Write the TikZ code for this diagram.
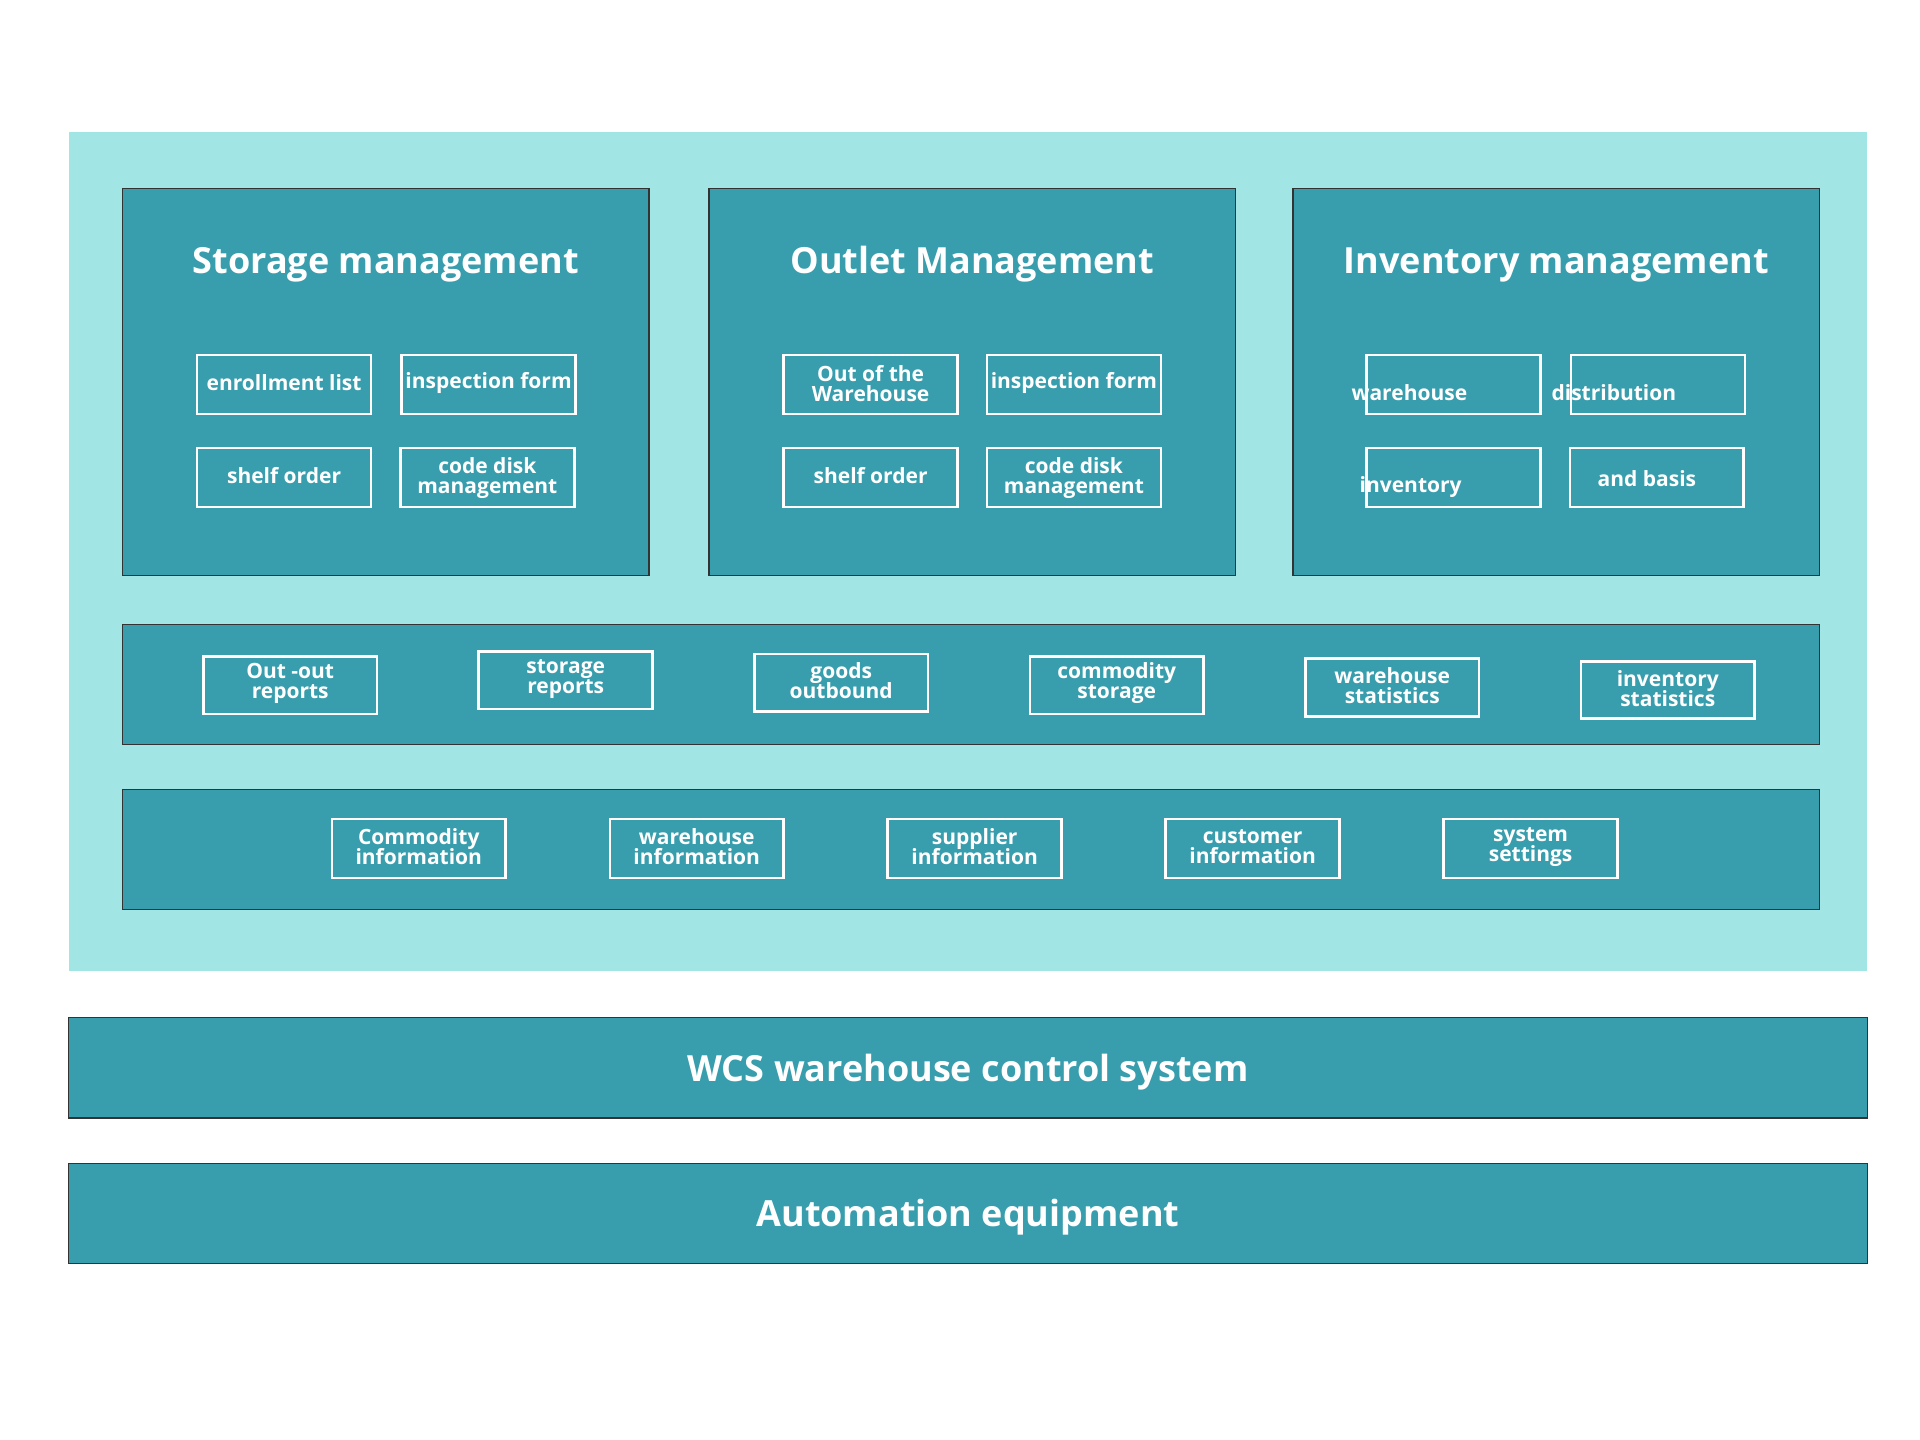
\documentclass[tikz,border=0pt]{standalone}
\usepackage{fontspec}
\setmainfont{Open Sans}
\usetikzlibrary{fit}
\definecolor{lightbg}{RGB}{162,229,229}
\definecolor{tealbox}{RGB}{56,158,173}
\newcommand\mytightlines{\lineskiplimit=-20pt\relax\lineskip=0pt\relax}
\begin{document}
\begin{tikzpicture}[x=0.6123pt,y=-0.6123pt,
  bgpanel/.style={fill=lightbg, inner sep=0pt},
  panel/.style={draw=black!80, fill=tealbox, line width=0.6pt, inner sep=0pt},
  subbox/.style={draw=white, line width=1.3pt, inner sep=0pt},
  subtext/.style={text=white, inner sep=0pt, align=center,
     font=\bfseries\fontsize{10.5}{10}\selectfont\mytightlines},
  titletext/.style={text=white, font=\bfseries\fontsize{18}{20}\selectfont},
  bigtext/.style={text=white, font=\bfseries\fontsize{18}{20}\selectfont}]
\useasboundingbox (0,0) rectangle (1568,1176);
\fill[white] (0,0) rectangle (1568,1176);
\node[bgpanel, fit={(56,108)(1525,793)}] (bg) {};
% three management panels
\node[panel, fit={(100,154)(530,470)}] (sm) {};
\node[panel, fit={(579,154)(1009,470)}] (om) {};
\node[panel, fit={(1056,154)(1486,470)}] (im) {};
\node[titletext] (smt) at (315,216) {Storage management};
\node[titletext] (omt) at (794,216) {Outlet Management};
\node[titletext] (imt) at (1271,216) {Inventory management};
% storage
\node[subbox, fit={(161,290)(303,338)}] (s1) {};
\node[subbox, fit={(328,290)(470,338)}] (s2) {};
\node[subbox, fit={(161,366)(303,414)}] (s3) {};
\node[subbox, fit={(327,366)(469,414)}] (s4) {};
\node[subtext] (s1t) at ([yshift=1pt]s1.center) {enrollment list};
\node[subtext] (s2t) at ([yshift=1pt]s2.center) {inspection form};
\node[subtext] (s3t) at ([yshift=1pt]s3.center) {shelf order};
\node[subtext] (s4t) at (s4.center) {code disk\\management};
% outlet
\node[subbox, fit={(640,290)(782,338)}] (o1) {};
\node[subbox, fit={(806,290)(948,338)}] (o2) {};
\node[subbox, fit={(640,366)(782,414)}] (o3) {};
\node[subbox, fit={(806,366)(948,414)}] (o4) {};
\node[subtext] (o1t) at ([yshift=0.5pt]o1.center) {Out of the\\Warehouse};
\node[subtext] (o2t) at ([yshift=1pt]o2.center) {inspection form};
\node[subtext] (o3t) at ([yshift=1pt]o3.center) {shelf order};
\node[subtext] (o4t) at (o4.center) {code disk\\management};
% inventory
\node[subbox, fit={(1116,290)(1258,338)}] (i1) {};
\node[subbox, fit={(1283,290)(1425,338)}] (i2) {};
\node[subbox, fit={(1116,366)(1258,414)}] (i3) {};
\node[subbox, fit={(1282,366)(1424,414)}] (i4) {};
\node[subtext] (i1t) at (1151,321) {warehouse};
\node[subtext] (i2t) at (1318,321) {distribution};
\node[subtext] (i3t) at (1152,398) {inventory};
\node[subtext] (i4t) at (1345,391) {and basis};
% reports row
\node[panel, fit={(100,510)(1486,608)}] (rep) {};
\node[subbox, fit={(166,536)(308,583)}] (r1) {};
\node[subbox, fit={(391,532)(533,579)}] (r2) {};
\node[subbox, fit={(616,534)(758,581)}] (r3) {};
\node[subbox, fit={(841,536)(983,583)}] (r4) {};
\node[subbox, fit={(1066,538)(1208,585)}] (r5) {};
\node[subbox, fit={(1291,540)(1433,587)}] (r6) {};
\node[subtext] (r1t) at ([yshift=0.8pt]r1.center) {Out -out\\reports};
\node[subtext] (r2t) at ([yshift=0.8pt]r2.center) {storage\\reports};
\node[subtext] (r3t) at ([yshift=0.8pt]r3.center) {goods\\outbound};
\node[subtext] (r4t) at ([yshift=0.8pt]r4.center) {commodity\\storage};
\node[subtext] (r5t) at ([yshift=0.8pt]r5.center) {warehouse\\statistics};
\node[subtext] (r6t) at ([yshift=0.8pt]r6.center) {inventory\\statistics};
% info row
\node[panel, fit={(100,645)(1486,743)}] (inf) {};
\node[subbox, fit={(271,669)(413,717)}] (n1) {};
\node[subbox, fit={(498,669)(640,717)}] (n2) {};
\node[subbox, fit={(725,669)(867,717)}] (n3) {};
\node[subbox, fit={(952,669)(1094,717)}] (n4) {};
\node[subbox, fit={(1179,669)(1321,717)}] (n5) {};
\node[subtext] (n1t) at ([yshift=0.8pt]n1.center) {Commodity\\information};
\node[subtext] (n2t) at ([yshift=0.8pt]n2.center) {warehouse\\information};
\node[subtext] (n3t) at ([yshift=0.8pt]n3.center) {supplier\\information};
\node[subtext] (n4t) at ([yshift=0.8pt]n4.center) {customer\\information};
\node[subtext] (n5t) at ([yshift=0.8pt]n5.center) {system\\settings};
% bottom bars
\node[panel, fit={(56,831)(1525,913)}] (wcs) {};
\node[panel, fit={(56,950)(1525,1032)}] (auto) {};
\node[bigtext] (wcst) at ([yshift=-2pt]wcs.center) {WCS warehouse control system};
\node[bigtext] (autot) at ([yshift=-2pt]auto.center) {Automation equipment};
\end{tikzpicture}
\end{document}
